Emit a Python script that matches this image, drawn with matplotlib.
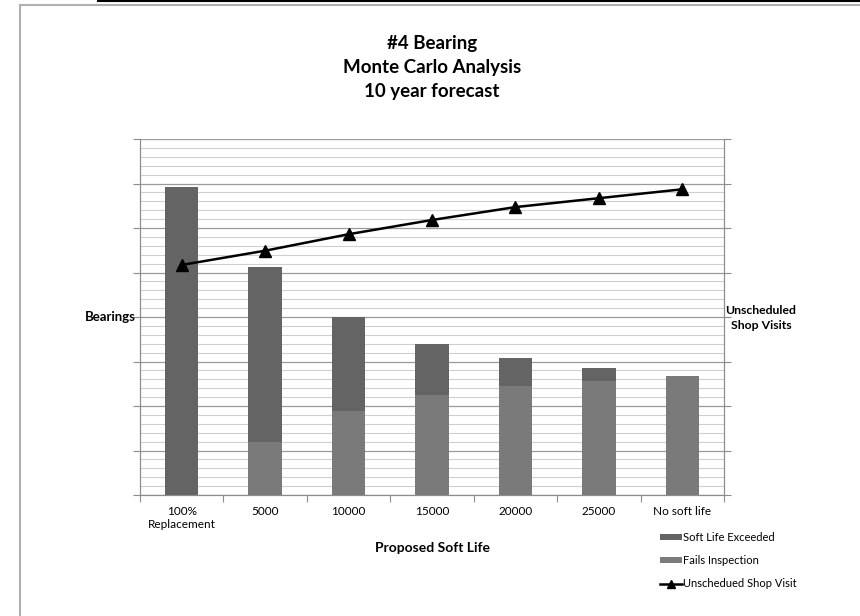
import numpy as np
import matplotlib
matplotlib.use("Agg")
import matplotlib.pyplot as plt
from matplotlib.lines import Line2D
from matplotlib.ticker import MultipleLocator

plt.rcParams['font.family'] = ['Lato', 'DejaVu Sans']

# soft life options and Monte Carlo results
categories = ['100%\nReplacement', '5000', '10000', '15000', '20000', '25000', 'No soft life']
fails_inspection = [0, 59, 94, 112, 122, 128, 134]
soft_life_exceeded = [346, 197, 106, 58, 32, 15, 0]
shop_visits = [51.7, 54.9, 58.6, 61.8, 64.7, 66.7, 68.7]

dark = '#646464'
light = '#7a7a7a'
axis_grey = '#8c8c8c'

fig = plt.figure(figsize=(8.6, 6.16), dpi=100)
ax = fig.add_axes([140 / 860, 1 - 495 / 616, 584 / 860, 356 / 616])
ax2 = ax.twinx()

x = np.arange(len(categories))
ax.bar(x, fails_inspection, width=0.4, color=light, label='Fails Inspection', zorder=3)
ax.bar(x, soft_life_exceeded, width=0.4, bottom=fails_inspection, color=dark,
       label='Soft Life Exceeded', zorder=3)
ax2.plot(x, shop_visits, color='black', lw=1.8, marker='^', markersize=8,
         label='Unschedued Shop Visit', zorder=4)

ax.set_xlim(-0.5, len(categories) - 0.5)
ax.set_ylim(0, 400)
ax2.set_ylim(0, 80)
ax.yaxis.set_major_locator(MultipleLocator(50))
ax.yaxis.set_minor_locator(MultipleLocator(10))
ax2.yaxis.set_major_locator(MultipleLocator(10))
ax.set_yticklabels([])
ax2.set_yticklabels([])
ax.grid(which='major', axis='y', color='#9a9a9a', lw=0.9, zorder=0)
ax.grid(which='minor', axis='y', color='#cfcfcf', lw=0.8, zorder=0)
ax.set_axisbelow(True)

# category separators as ticks, labels at the centres
ax.set_xticks(np.arange(-0.5, len(categories), 1.0))
ax.set_xticklabels([])
ax.set_xticks(x, minor=True)
ax.set_xticklabels(categories, minor=True, fontsize=8.5)
ax.tick_params(axis='x', which='minor', length=0, pad=8)
ax.tick_params(axis='x', which='major', length=5, color=axis_grey)
ax.tick_params(axis='y', which='major', length=5, color=axis_grey)
ax.tick_params(axis='y', which='minor', length=0)
ax2.tick_params(axis='y', which='major', length=5, color=axis_grey)

for a in (ax, ax2):
    a.spines['top'].set_visible(False)
    for s in ('left', 'right', 'bottom'):
        a.spines[s].set_color(axis_grey)

fig.text(432 / 860, 1 - 548 / 616, 'Proposed Soft Life', ha='center', va='center',
         fontsize=10, fontweight='bold')
fig.text(136 / 860, 1 - 317 / 616, 'Bearings', ha='right', va='center',
         fontsize=9.5, fontweight='bold')
fig.text(761 / 860, 1 - 318 / 616, 'Unscheduled\nShop Visits', ha='center', va='center',
         fontsize=8.8, fontweight='bold', linespacing=1.35)
fig.text(432 / 860, 1 - 67 / 616, '#4 Bearing\nMonte Carlo Analysis\n10 year forecast',
         ha='center', va='center', fontsize=13.5, fontweight='bold', linespacing=1.5)

h1, l1 = ax.get_legend_handles_labels()
h2, l2 = ax2.get_legend_handles_labels()
handles = [h1[1], h1[0], h2[0]]
labels = [l1[1], l1[0], l2[0]]
fig.legend(handles, labels, loc='upper left', bbox_to_anchor=(650 / 860, 1 - 522 / 616),
           frameon=False, fontsize=8, handlelength=2.0, handleheight=0.5,
           labelspacing=1.1, handletextpad=0.1, markerscale=0.7)

# outer chart frame and page rule
fig.add_artist(Line2D([20 / 860, 20 / 860], [0, 1 - 5 / 616], color='#b0b0b0', lw=1.5))
fig.add_artist(Line2D([20 / 860, 1], [1 - 5 / 616, 1 - 5 / 616], color='#b0b0b0', lw=1.5))
fig.add_artist(Line2D([98 / 860, 1], [1 - 0.8 / 616, 1 - 0.8 / 616], color='black', lw=1.5))

fig.savefig('out.png', dpi=100)
